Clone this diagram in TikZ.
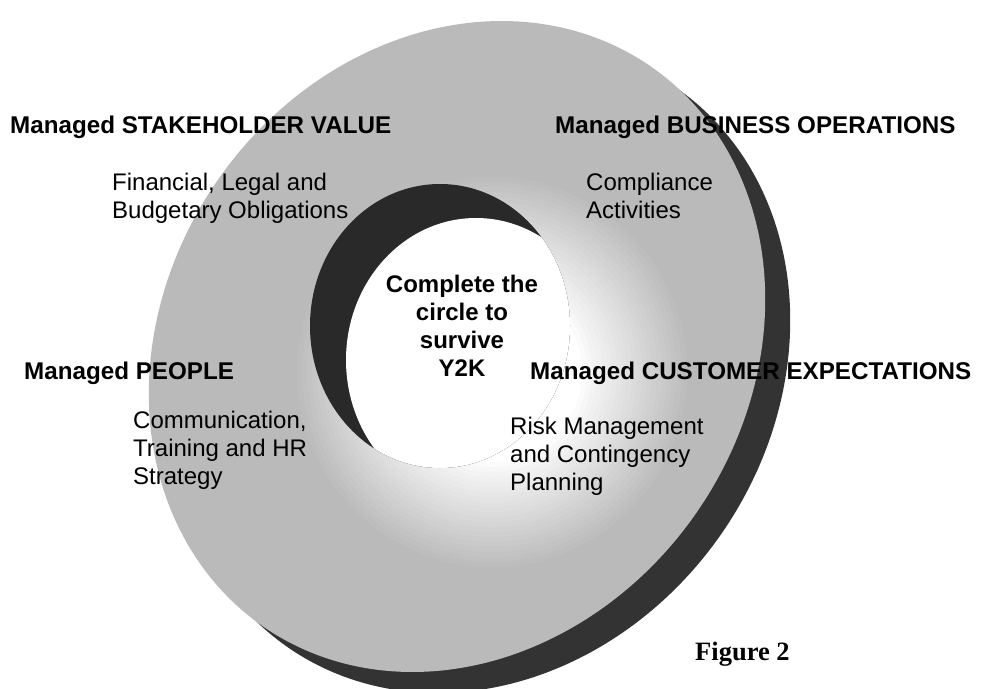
\documentclass[tikz,border=0pt]{standalone}
\usepackage{fontspec}
\setmainfont{Liberation Sans}
\newfontfamily\figfont{Liberation Serif}
\definecolor{facegray}{gray}{0.73}
\definecolor{shadowgray}{gray}{0.2}
\definecolor{wallgray}{gray}{0.16}
\begin{document}
\begin{tikzpicture}[x=1pt,y=-1pt,
  hdr/.style={font=\fontsize{24.2}{28}\selectfont\bfseries, inner sep=0pt, anchor=north west},
  sub/.style={font=\fontsize{24}{28}\selectfont, inner sep=0pt, anchor=north west, align=left},
  ctr/.style={font=\fontsize{24}{28}\selectfont\bfseries, inner sep=0pt, anchor=north, align=center},
  figlabel/.style={font={\figfont\fontsize{26.5}{30}\selectfont\bfseries}, inner sep=0pt, anchor=base west}]
\useasboundingbox (0,0) rectangle (987,688);
\fill[white] (0,0) rectangle (987,688);
% shadow (side of the ring)
\fill[shadowgray] plot[domain=0:360, samples=150, smooth cycle]
  ({482+44.6*cos(\x)+305*sin(\x)}, {367.5-325.5*cos(\x)});
% face
\path[save path=\facep] plot[domain=0:360, samples=150, smooth cycle]
  ({457+44.6*cos(\x)+305*sin(\x)}, {346.5-325.5*cos(\x)});
\fill[facegray, use path=\facep];
% glow around the lower right of the hole
\begin{scope}
\clip[use path=\facep];
\foreach \k in {1,...,22}{
  \pgfmathsetmacro\rr{195-(\k-1)*5}
  \pgfmathsetmacro\op{1/(23-\k)}
  \fill[white, opacity=\op] (492,372) circle[radius=\rr];
}
\end{scope}
% hole with its inner wall
\fill[wallgray] (440,326) ellipse [x radius=130, y radius=142];
\begin{scope}
\clip (440,326) ellipse [x radius=130, y radius=142];
\fill[white] (476,360) ellipse [x radius=130, y radius=142];
\end{scope}
% texts
\node[hdr] (sv) at (10,115.5) {Managed STAKEHOLDER VALUE};
\node[hdr] (bo) at (555,115.5) {Managed BUSINESS OPERATIONS};
\node[hdr] (pe) at (24,361.5) {Managed PEOPLE};
\node[hdr] (ce) at (530,361.5) {Managed CUSTOMER EXPECTATIONS};
\node[sub] (svs) at (112,172.5) {Financial, Legal and\\Budgetary Obligations};
\node[sub] (bos) at (586,172.5) {Compliance\\Activities};
\node[sub] (pes) at (133,410.5) {Communication,\\Training and HR\\Strategy};
\node[sub] (ces) at (510,416.5) {Risk Management\\and Contingency\\Planning};
\node[ctr] (core) at (462,274.5) {Complete the\\circle to\\survive\\Y2K};
\node[figlabel] (fig) at (695,660) {Figure 2};
\end{tikzpicture}
\end{document}
